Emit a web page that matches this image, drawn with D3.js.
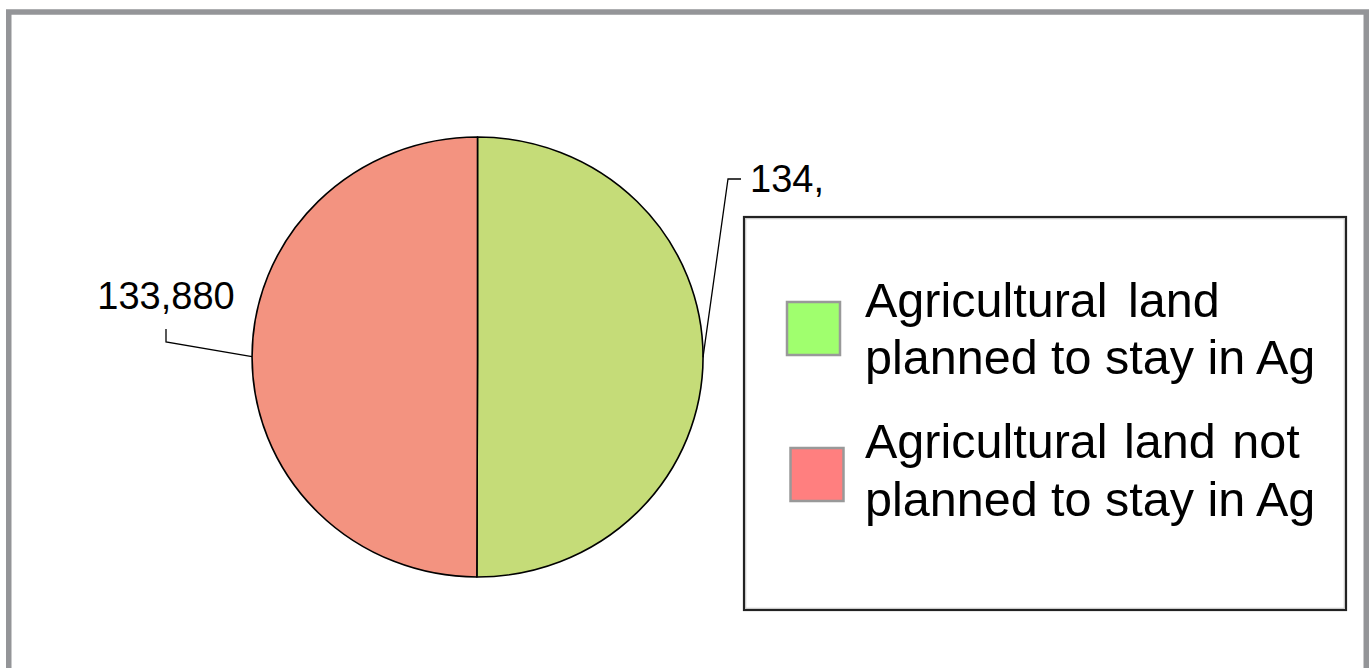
<!DOCTYPE html>
<html>
<head>
<meta charset="utf-8">
<script src="https://cdn.jsdelivr.net/npm/d3@7"></script>
<style>
  html, body { margin: 0; padding: 0; background: #ffffff; }
  svg { display: block; font-family: "Liberation Sans", Arial, sans-serif; }
</style>
</head>
<body>
<svg id="chart" width="1370" height="668"></svg>
<script>
// Land use categories and acreage
const categories = [
  "Agricultural land planned to stay in Ag",
  "Agricultural land not planned to stay in Ag"
];
const legendLines = [
  ["Agricultural land", "planned to stay in Ag"],
  ["Agricultural land not", "planned to stay in Ag"]
];
const acres = [134120, 133880];
const sliceColors = ["#c5dc78", "#f39380"];
const swatchColors = ["#a0ff6e", "#ff7f7f"];

const svg = d3.select("#chart");
const W = 1370, H = 668;

svg.append("rect").attr("width", W).attr("height", H).attr("fill", "#ffffff");

// Outer frame (bottom edge runs past the page)
svg.append("rect")
  .attr("x", 8.75).attr("y", 12)
  .attr("width", 1357.5).attr("height", 700)
  .attr("fill", "none")
  .attr("stroke", "#949598")
  .attr("stroke-width", 5.5);

// Pie, drawn slightly wider than tall
const cx = 477.5, cy = 357;
const ry = 220, rx = 225.5;
const sx = rx / ry;

const pie = d3.pie().sort(null).value(d => d)(acres);
const arc = d3.arc().innerRadius(0).outerRadius(ry);

const pieG = svg.append("g").attr("transform", `translate(${cx},${cy}) scale(${sx},1)`);
pieG.selectAll("path.slice")
  .data(pie)
  .join("path")
  .attr("class", "slice")
  .attr("d", arc)
  .attr("fill", (d, i) => sliceColors[i])
  .attr("stroke", "#000000")
  .attr("stroke-width", 1.6)
  .attr("stroke-linejoin", "round")
  .attr("vector-effect", "non-scaling-stroke");

// Edge point of a slice at its mid angle, in page coordinates
function edgePoint(d) {
  const a = (d.startAngle + d.endAngle) / 2;
  return [cx + Math.sin(a) * rx, cy - Math.cos(a) * ry];
}

const fmt = d3.format(",");
const labelG = svg.append("g");

// Value label for the first slice, with leader line going up and right
{
  const d = pie[0];
  const p0 = edgePoint(d);
  const elbow = [cx + 250.5, cy - 178];
  const end = [elbow[0] + 13, elbow[1]];
  labelG.append("path")
    .attr("d", d3.line()([p0, elbow, end]))
    .attr("fill", "none").attr("stroke", "#000").attr("stroke-width", 1.3);
  const t = labelG.append("text")
    .attr("x", end[0] + 9).attr("y", elbow[1] + 13)
    .attr("font-size", 38).attr("fill", "#000")
    .text(fmt(d.data));
  // label is cut to the room left beside the legend
  let s = fmt(d.data);
  while (t.node().getComputedTextLength() > 80 && s.length > 1) {
    s = s.slice(0, -1);
    t.text(s);
  }
}

// Value label for the second slice, with leader line going left
{
  const d = pie[1];
  const p0 = edgePoint(d);
  const elbow = [cx - 311.5, cy - 15];
  const top = [elbow[0], cy - 28];
  labelG.append("path")
    .attr("d", d3.line()([p0, elbow, top]))
    .attr("fill", "none").attr("stroke", "#000").attr("stroke-width", 1.3);
  labelG.append("text")
    .attr("x", elbow[0]).attr("y", cy - 48)
    .attr("text-anchor", "middle")
    .attr("font-size", 38).attr("fill", "#000")
    .text(fmt(d.data));
}

// Legend
const lg = svg.append("g");
lg.append("rect")
  .attr("x", 744).attr("y", 217)
  .attr("width", 602).attr("height", 393)
  .attr("fill", "#ffffff")
  .attr("stroke", "#222222")
  .attr("stroke-width", 2.2);
lg.append("rect")
  .attr("x", 745.8).attr("y", 218.8)
  .attr("width", 598.4).attr("height", 389.4)
  .attr("fill", "none")
  .attr("stroke", "#b8b8b8")
  .attr("stroke-width", 0.8);

const swatchPos = [[787, 302], [790.5, 448]];
const textBase = [[317, 374], [458, 516]];
const firstLineSpacing = [7, 3];

categories.forEach((c, i) => {
  const item = lg.append("g").attr("class", "legend-item");
  item.append("rect")
    .attr("x", swatchPos[i][0]).attr("y", swatchPos[i][1])
    .attr("width", 53).attr("height", 53)
    .attr("fill", swatchColors[i])
    .attr("stroke", "#999999")
    .attr("stroke-width", 2.5);
  const txt = item.append("text")
    .attr("font-size", 48.5).attr("fill", "#000");
  legendLines[i].forEach((line, j) => {
    txt.append("tspan")
      .attr("x", 865)
      .attr("y", textBase[i][j])
      .attr("word-spacing", j === 0 ? firstLineSpacing[i] : 0)
      .text(line);
  });
});
</script>
</body>
</html>
